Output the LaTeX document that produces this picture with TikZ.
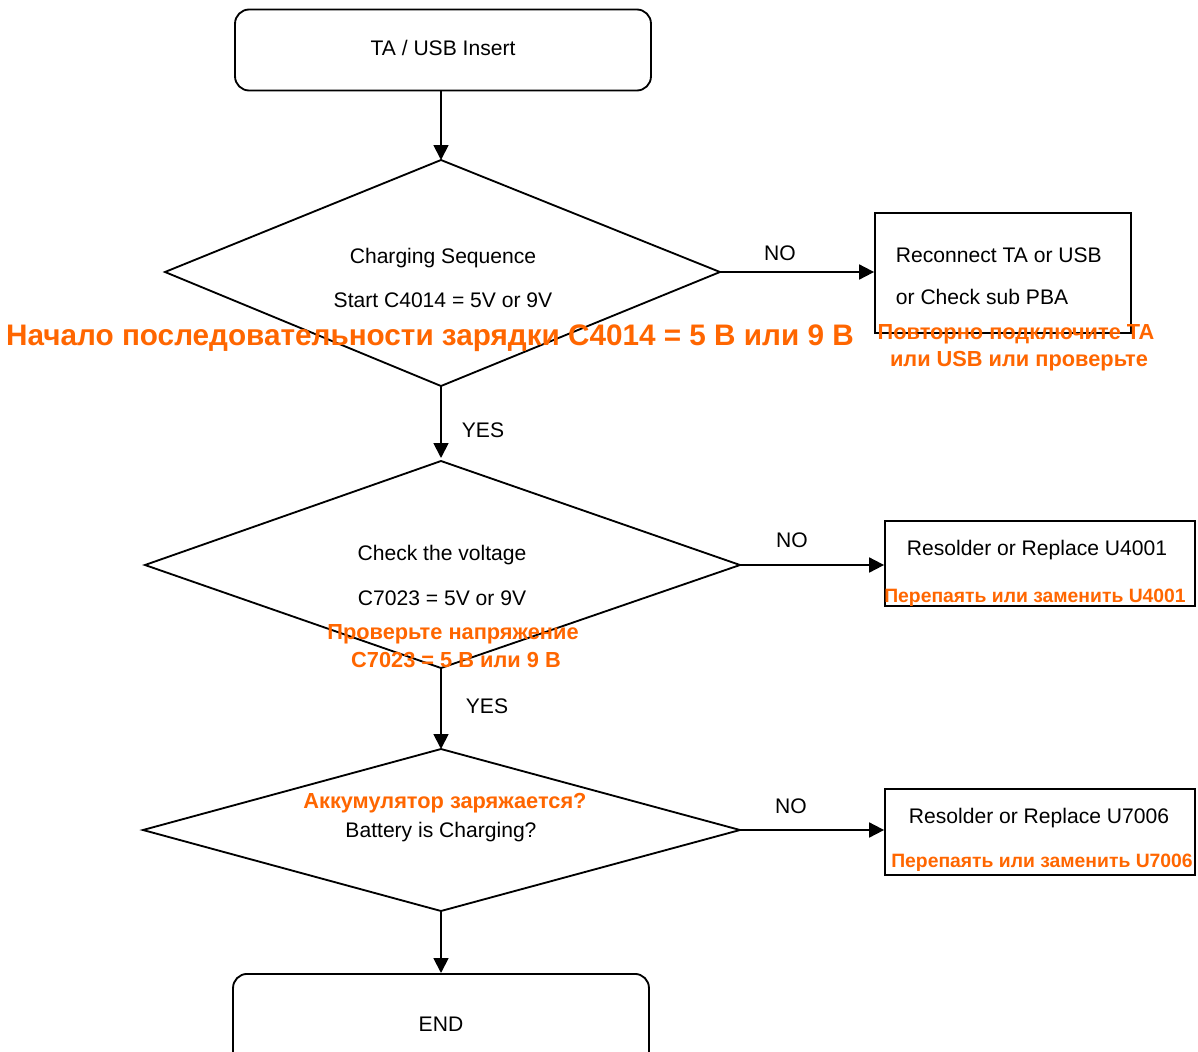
\documentclass[tikz,border=0pt]{standalone}
\usepackage{fontspec}
\setmainfont{Liberation Sans}
\usetikzlibrary{arrows.meta}
\definecolor{ora}{RGB}{255,102,0}
\begin{document}
\begin{tikzpicture}[x=0.02cm,y=-0.02cm,
  line width=1.05pt,
  flow/.style={-{Triangle[length=8.5pt,width=8.5pt]}},
  rbox/.style={draw, rounded corners=8pt, inner sep=0pt},
  sbox/.style={draw, inner sep=0pt},
  txt/.style={font=\fontsize{12}{14}\selectfont, inner sep=0pt},
  otxt/.style={font=\fontsize{11}{13}\selectfont\bfseries, text=ora, inner sep=0pt},
  otxtl/.style={font=\fontsize{12.4}{14}\selectfont\bfseries, text=ora, inner sep=0pt},
  bigtxt/.style={font=\fontsize{16.9}{19}\selectfont\bfseries, text=ora, inner sep=0pt}]
\clip (0,0) rectangle (1198,1052);
\fill[white] (0,0) rectangle (1198,1052);

% start
\node[rbox, minimum width=8.32cm, minimum height=1.62cm] (start) at (443,50) {};
\node[txt] (starttxt) at (443,48) {TA / USB Insert};

% diamond 1
\coordinate (d1t) at (441,160);
\coordinate (d1l) at (165,272);
\coordinate (d1r) at (720,272);
\coordinate (d1b) at (441,386);
\draw (d1t) -- (d1r) -- (d1b) -- (d1l) -- cycle;
\node[txt] (d1a) at (443,258) {Charging Sequence};
\node[txt] (d1c) at (443,300) {Start C4014 = 5V or 9V};
\node[bigtxt] (d1ru) at (430,338) {Начало последовательности зарядки C4014 = 5 В или 9 В};

% box 1
\node[sbox, minimum width=5.12cm, minimum height=2.4cm] (b1) at (1003,273) {};
\node[txt, anchor=west] (b1a) at (895,255) {Reconnect TA or USB};
\node[txt, anchor=west] (b1b) at (895,297) {or Check sub PBA};
\node[otxtl] (b1ru1) at (1016,334) {Повторно подключите TA};
\node[otxtl] (b1ru2) at (1019,361) {или USB или проверьте};

% diamond 2
\coordinate (d2t) at (441,461);
\coordinate (d2l) at (145,565);
\coordinate (d2r) at (740,565);
\coordinate (d2b) at (441,668);
\draw (d2t) -- (d2r) -- (d2b) -- (d2l) -- cycle;
\node[txt] (d2a) at (442,555) {Check the voltage};
\node[txt] (d2c) at (442,598) {C7023 = 5V or 9V};
\node[otxtl] (d2ru1) at (453,634) {Проверьте напряжение};
\node[otxtl] (d2ru2) at (456,660) {C7023 = 5 В или 9 В};

% box 2
\node[sbox, minimum width=6.2cm, minimum height=1.7cm] (b2) at (1040,563.5) {};
\node[txt] (b2a) at (1037,550) {Resolder or Replace U4001};
\node[otxt] (b2ru) at (1035,598) {Перепаять или заменить U4001};

% diamond 3
\coordinate (d3t) at (441,749);
\coordinate (d3l) at (143,830);
\coordinate (d3r) at (740,830);
\coordinate (d3b) at (441,911);
\draw (d3t) -- (d3r) -- (d3b) -- (d3l) -- cycle;
\node[otxtl] (d3ru) at (445,803) {Аккумулятор заряжается?};
\node[txt] (d3a) at (441,832) {Battery is Charging?};

% box 3
\node[sbox, minimum width=6.2cm, minimum height=1.72cm] (b3) at (1040,832) {};
\node[txt] (b3a) at (1039,818) {Resolder or Replace U7006};
\node[otxt] (b3ru) at (1042,863) {Перепаять или заменить U7006};

% end
\node[rbox, minimum width=8.32cm, minimum height=2cm, anchor=north, font=\fontsize{12}{14}\selectfont] (endb) at (441,973) {END};

% connectors
\coordinate (a0) at (441,91);
\draw[flow] (a0) -- (d1t);
\draw[flow] (d1r) -- (b1.west |- d1r);
\node[txt] (no1) at (780,253) {NO};
\draw[flow] (d1b) -- ([yshift=0.06cm]d2t);
\node[txt] (yes1) at (483,430) {YES};
\draw[flow] (d2r) -- (b2.west |- d2r);
\node[txt] (no2) at (792,540) {NO};
\draw[flow] (d2b) -- (d3t);
\node[txt] (yes2) at (487,706) {YES};
\draw[flow] (d3r) -- (b3.west |- d3r);
\node[txt] (no3) at (791,806) {NO};
\draw[flow] (d3b) -- (endb.north);
\end{tikzpicture}
\end{document}
